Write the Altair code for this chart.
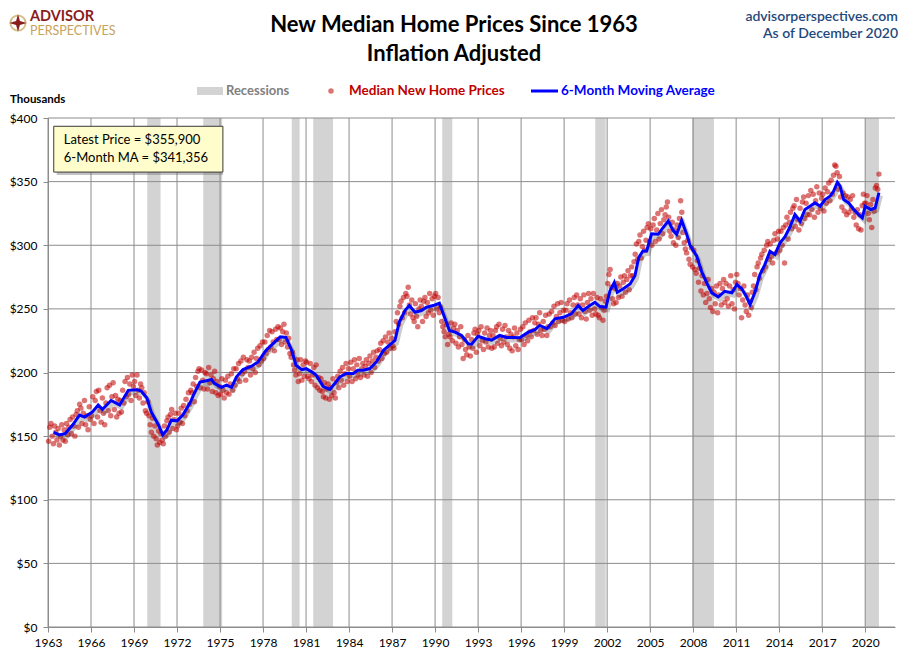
import altair as alt
import pandas as pd

# ---- monthly median new home prices (thousands, inflation adjusted) ----
prices_1960s = [
    146, 157, 160, 150, 144, 158, 153, 147, 156, 143, 150, 159,   # 1963
    147, 155, 146, 160, 151, 157, 163, 152, 165, 158, 150, 167,   # 1964
    170, 157, 175, 172, 160, 168, 178, 159, 166, 155, 173, 163,   # 1965
    166, 181, 160, 178, 185, 165, 186, 170, 161, 180, 168, 159,   # 1966
    176, 188, 170, 190, 166, 181, 192, 171, 182, 165, 179, 168,   # 1967
    178, 169, 186, 176, 193, 181, 196, 183, 191, 178, 198, 189,   # 1968
    193, 182, 198, 186, 180, 191, 188, 176, 184, 170, 168, 177,   # 1969
]
prices_1970s = [
    166, 159, 153, 164, 150, 158, 148, 143, 154, 145, 152, 147,   # 1970
    144, 158, 150, 162, 165, 153, 167, 171, 156, 163, 168, 155,   # 1971
    158, 168, 161, 172, 160, 174, 166, 179, 170, 184, 175, 186,   # 1972
    184, 191, 177, 196, 189, 201, 203, 188, 202, 194, 187, 200,   # 1973
    199, 187, 204, 192, 198, 185, 195, 201, 184, 193, 182, 189,   # 1974
    183, 195, 186, 180, 194, 184, 197, 183, 191, 199, 186, 203,   # 1975
    190, 203, 195, 207, 193, 209, 199, 212, 201, 194, 210, 204,   # 1976
    209, 198, 212, 203, 216, 200, 211, 219, 206, 221, 209, 224,   # 1977
    211, 224, 215, 229, 218, 233, 220, 232, 224, 217, 234, 226,   # 1978
    236, 226, 235, 222, 232, 238, 224, 231, 220, 227, 215, 212,   # 1979
]
prices_1980s = [
    216, 206, 202, 198, 210, 193, 199, 210, 194, 206, 197, 209,   # 1980
    208, 197, 195, 207, 193, 198, 204, 190, 206, 188, 196, 186,   # 1981
    195, 185, 181, 192, 180, 187, 191, 179, 188, 182, 195, 184,   # 1982
    180, 192, 197, 188, 201, 194, 204, 190, 199, 207, 193, 203,   # 1983
    197, 208, 193, 203, 210, 195, 206, 198, 211, 196, 203, 207,   # 1984
    198, 205, 210, 197, 207, 213, 200, 209, 216, 204, 212, 217,   # 1985
    209, 218, 223, 211, 225, 215, 228, 216, 224, 231, 219, 227,   # 1986
    221, 219, 232, 240, 247, 238, 252, 256, 243, 259, 247, 262,   # 1987
    260, 267, 253, 246, 257, 243, 240, 254, 244, 236, 250, 257,   # 1988
    252, 240, 256, 259, 244, 255, 247, 262, 249, 258, 245, 260,   # 1989
]
prices_1990s = [
    262, 250, 259, 247, 251, 240, 236, 232, 228, 238, 222, 230,   # 1990
    228, 239, 225, 235, 238, 223, 233, 220, 228, 236, 222, 211,   # 1991
    226, 218, 214, 229, 220, 213, 226, 219, 231, 234, 216, 230,   # 1992
    233, 221, 236, 225, 218, 231, 224, 235, 220, 229, 233, 219,   # 1993
    229, 220, 233, 236, 223, 238, 227, 221, 234, 224, 237, 228,   # 1994
    222, 233, 219, 230, 217, 228, 235, 221, 231, 218, 226, 234,   # 1995
    226, 236, 222, 239, 229, 225, 241, 232, 228, 243, 233, 239,   # 1996
    243, 230, 238, 247, 233, 229, 240, 234, 245, 229, 236, 246,   # 1997
    236, 248, 239, 252, 237, 244, 254, 240, 247, 255, 241, 249,   # 1998
    240, 249, 254, 242, 257, 247, 243, 253, 259, 246, 261, 253,   # 1999
]
prices_2000s = [
    246, 258, 243, 253, 261, 248, 242, 255, 262, 249, 258, 245,   # 2000
    262, 250, 246, 259, 245, 243, 258, 251, 241, 249, 256, 260,   # 2001
    270, 277, 281, 267, 258, 254, 266, 255, 270, 259, 268, 275,   # 2002
    260, 271, 276, 263, 273, 280, 265, 276, 283, 276, 287, 293,   # 2003
    301, 289, 303, 308, 290, 299, 311, 296, 304, 314, 317, 303,   # 2004
    313, 300, 316, 321, 303, 312, 325, 305, 317, 328, 309, 320,   # 2005
    324, 330, 334, 322, 311, 307, 318, 302, 312, 300, 316, 306,   # 2006
    321, 335, 326, 310, 302, 297, 294, 304, 289, 285, 298, 283,   # 2007
    296, 281, 278, 288, 271, 282, 264, 276, 261, 270, 255, 262,   # 2008
    273, 258, 251, 266, 248, 263, 254, 268, 247, 261, 270, 253,   # 2009
]
prices_2010s = [
    266, 273, 255, 270, 258, 252, 268, 276, 254, 265, 250, 271,   # 2010
    277, 270, 261, 266, 243, 257, 268, 253, 248, 261, 245, 256,   # 2011
    251, 263, 268, 277, 265, 283, 286, 274, 290, 293, 280, 296,   # 2012
    283, 300, 303, 289, 301, 291, 286, 304, 309, 294, 305, 311,   # 2013
    296, 311, 300, 314, 286, 316, 322, 305, 318, 326, 313, 329,   # 2014
    331, 315, 336, 320, 312, 329, 317, 334, 338, 321, 333, 324,   # 2015
    339, 324, 343, 328, 340, 322, 335, 346, 326, 341, 329, 337,   # 2016
    340, 327, 345, 333, 342, 349, 335, 351, 340, 355, 363, 362,   # 2017
    357, 344, 354, 338, 330, 341, 327, 339, 324, 338, 326, 336,   # 2018
    329, 339, 322, 326, 316, 328, 313, 324, 312, 331, 340, 333,   # 2019
]
prices_2020 = [333, 339, 325, 320, 332, 314, 336, 327, 345, 347, 344, 355.9]

# ---- 6-month moving average (decimal year, thousands) ----
ma_year = [
    1963.4, 1963.8, 1964.2, 1964.7, 1965.2, 1965.55, 1966.1, 1966.5, 1966.8, 1967.4,
    1968.0, 1968.6, 1969.2, 1969.5, 1969.9, 1970.2, 1970.7, 1971.0, 1971.3, 1971.6,
    1972.0, 1972.4, 1972.9, 1973.2, 1973.6, 1974.05, 1974.4, 1974.6, 1975.1, 1975.45,
    1975.8, 1976.15, 1976.6, 1977.2, 1977.65, 1978.2, 1978.7, 1979.2, 1979.6, 1980.0,
    1980.3, 1980.7, 1981.0, 1981.4, 1981.7, 1982.2, 1982.66, 1983.0, 1983.36, 1983.8,
    1984.3, 1984.6, 1985.0, 1985.45, 1985.9, 1986.4, 1986.8, 1987.2, 1987.5, 1987.9,
    1988.2, 1988.6, 1989.05, 1989.4, 1989.87, 1990.3, 1990.7, 1991.0, 1991.4, 1991.85,
    1992.3, 1992.55, 1993.0, 1993.5, 1993.95, 1994.5, 1995.0, 1995.5, 1995.9, 1996.5,
    1996.96, 1997.3, 1997.8, 1998.36, 1998.94, 1999.5, 1999.98, 2000.3, 2000.8, 2001.15,
    2001.5, 2001.92, 2002.2, 2002.5, 2002.7, 2003.1, 2003.6, 2003.94, 2004.2, 2004.5,
    2004.76, 2005.1, 2005.57, 2005.9, 2006.27, 2006.6, 2006.85, 2007.2, 2007.55, 2007.78,
    2008.25, 2008.6, 2008.95, 2009.3, 2009.75, 2010.2, 2010.7, 2011.05, 2011.4, 2011.7,
    2011.97, 2012.3, 2012.66, 2013.0, 2013.36, 2013.7, 2014.06, 2014.4, 2014.76, 2015.1,
    2015.46, 2015.8, 2016.15, 2016.5, 2016.86, 2017.2, 2017.55, 2017.8, 2018.06, 2018.25,
    2018.5, 2018.85, 2019.2, 2019.55, 2019.8, 2020.0, 2020.4, 2020.7, 2020.96,
]
ma_value = [
    153, 151, 152, 158.5, 166.5, 165, 169, 174.5, 171, 178,
    174.5, 186, 186.5, 185.5, 180, 169, 159, 151, 155, 162.5,
    162, 166.5, 176, 183.5, 192.5, 193.5, 194.5, 191.5, 188.3, 190,
    188.3, 196.6, 202.3, 205, 208.3, 217.4, 222.7, 228, 227.5, 217.4,
    205.7, 202.3, 203, 200.5, 198, 189, 186.7, 191.4, 196.6, 199.2,
    199.2, 201.8, 201.8, 203.1, 208.3, 217.4, 221.3, 225.2, 239.5, 248.7,
    252.6, 247.3, 248.7, 251.3, 252.6, 254.4, 242.2, 233, 231.7, 229.1,
    222.7, 222.3, 228.4, 226.5, 225.5, 229.1, 227.5, 227.5, 227.3, 231.7,
    233.6, 237, 234.4, 242.2, 243.4, 246.1, 252.6, 248.7, 252.6, 255.2,
    251.8, 251.3, 264.3, 270.8, 263, 265.6, 269.5, 276, 290.3, 295.5,
    295.5, 309, 308.6, 313.8, 319, 311.7, 308.6, 319.5, 308.6, 300,
    291.5, 279, 270.4, 262.6, 259.4, 263.8, 262.6, 269.1, 265.7, 259.9,
    253.4, 262.6, 277, 284.8, 295.3, 292.7, 301.9, 306.6, 314.5, 324.1,
    318.9, 328.1, 330.7, 333.3, 330.7, 335.9, 338.5, 342.5, 349.5, 346.4,
    335.9, 333.3, 328.1, 324.1, 321.5, 330.7, 328.1, 329.4, 341.356,
]

# ---- recessions (decimal years) ----
rec_start = [1969.92, 1973.83, 1980.0, 1981.5, 1990.5, 2001.17, 2007.92, 2020.0]
rec_end = [1970.85, 1975.15, 1980.55, 1982.88, 1991.2, 2001.9, 2009.45, 2020.96]

x_ticks = list(range(1963, 2021, 3))
y_ticks = list(range(0, 401, 50))

# ---- tables ----
all_prices = prices_1960s + prices_1970s + prices_1980s + prices_1990s + prices_2000s + prices_2010s + prices_2020
months = [(1963 + i // 12) + ((i % 12) + 0.5) / 12 for i in range(len(all_prices))]
pts = pd.DataFrame({"t": months, "v": all_prices})
ma = pd.DataFrame({"t": ma_year, "v": ma_value})
rec = pd.DataFrame({"s": rec_start, "e": rec_end, "lo": [0] * len(rec_start), "hi": [400] * len(rec_start)})
xg = pd.DataFrame({"g": x_ticks})
yg = pd.DataFrame({"g": y_ticks})

FONT = "Lato"
GRID = "#8c8c8c"
xs = alt.Scale(domain=[1963, 2022.08], nice=False, zero=False)
ys = alt.Scale(domain=[0, 400], nice=False, zero=True)

x_axis = alt.Axis(values=x_ticks, format="d", grid=False, tickSize=5, tickColor=GRID,
                  domainColor=GRID, labelFont=FONT, labelFontSize=12, labelColor="black",
                  labelPadding=5, title=None, labelFlush=False)
y_axis = alt.Axis(values=y_ticks, labelExpr="'$' + datum.value", grid=False, tickSize=5,
                  tickColor=GRID, domainColor=GRID, labelFont=FONT, labelFontSize=12,
                  labelColor="black", labelPadding=6, title=None)


def X(f):
    return alt.X(f, scale=xs, axis=x_axis)


def Y(f):
    return alt.Y(f, scale=ys, axis=y_axis)


bands = alt.Chart(rec).mark_rect(color="#d3d3d3").encode(
    x=X("s:Q"), x2="e:Q", y=Y("lo:Q"), y2="hi:Q")

vgrid = alt.Chart(xg).mark_rule(color=GRID, strokeWidth=1).encode(x=X("g:Q"))
hgrid = alt.Chart(yg).mark_rule(color=GRID, strokeWidth=1).encode(y=Y("g:Q"))

dots = alt.Chart(pts).mark_circle(size=30, color="#c00000", opacity=0.55).encode(
    x=X("t:Q"), y=Y("v:Q"))

shadow = alt.Chart(ma).mark_line(color="#333333", opacity=0.25, strokeWidth=4,
                                 xOffset=2, yOffset=3).encode(x=X("t:Q"), y=Y("v:Q"))
line = alt.Chart(ma).mark_line(color="#0000ff", strokeWidth=3).encode(x=X("t:Q"), y=Y("v:Q"))

# annotation box (data coordinates)
box_df = pd.DataFrame({"x1": [1963.4], "x2": [1975.2], "y1": [357.5], "y2": [393.5]})
box_shadow = alt.Chart(box_df).mark_rect(fill="#777777", opacity=0.45, xOffset=3, yOffset=3).encode(
    x=X("x1:Q"), x2="x2:Q", y=Y("y1:Q"), y2="y2:Q")
box = alt.Chart(box_df).mark_rect(fill="#fefdcb", stroke="#3a3a3a", strokeWidth=1).encode(
    x=X("x1:Q"), x2="x2:Q", y=Y("y1:Q"), y2="y2:Q")
box_txt = pd.DataFrame({"x": [1964.1, 1964.1], "y": [382.5, 368.7],
                        "s": ["Latest Price = $355,900", "6-Month MA = $341,356"]})
box_text = alt.Chart(box_txt).mark_text(align="left", baseline="middle", font=FONT,
                                        fontSize=13, color="black").encode(
    x=X("x:Q"), y=Y("y:Q"), text="s:N")


def label(s, x, y, **kw):
    return alt.Chart(pd.DataFrame({"s": [s]})).mark_text(**kw).encode(
        x=alt.value(x), y=alt.value(y), text="s:N")


one = pd.DataFrame({"a": [0]})
titles = [
    label("New Median Home Prices Since 1963", 406, -93, align="center", baseline="middle",
          font=FONT, fontSize=22, fontWeight="bold", color="black"),
    label("Inflation Adjusted", 406, -64, align="center", baseline="middle",
          font=FONT, fontSize=22, fontWeight="bold", color="black"),
    label("advisorperspectives.com", 850, -101, align="right", baseline="middle",
          font=FONT, fontSize=14, fontWeight=600, color="#1f497d"),
    label("As of December 2020", 850, -84, align="right", baseline="middle",
          font=FONT, fontSize=14, fontWeight=600, color="#1f497d"),
    label("ADVISOR", -18, -101, align="left", baseline="middle",
          font=FONT, fontSize=14.5, fontWeight="bold", color="#8b1c1c"),
    label("PERSPECTIVES", -18, -87, align="left", baseline="middle",
          font=FONT, fontSize=12.5, color="#c8a25a"),
    label("Thousands", -38, -18, align="left", baseline="middle",
          font=FONT, fontSize=11.5, fontWeight="bold", color="black"),
    label("Recessions", 178, -27, align="left", baseline="middle",
          font=FONT, fontSize=13, fontWeight="bold", color="#808080"),
    label("Median New Home Prices", 301, -27, align="left", baseline="middle",
          font=FONT, fontSize=13.5, fontWeight="bold", color="#c00000"),
    label("6-Month Moving Average", 513, -27, align="left", baseline="middle",
          font=FONT, fontSize=13.5, fontWeight="bold", color="#0000ff"),
]

logo_ring = alt.Chart(one).mark_point(shape="circle", size=230, filled=False,
                                      stroke="#c8a25a", strokeWidth=2).encode(
    x=alt.value(-30), y=alt.value(-95))
logo_star = alt.Chart(one).mark_point(
    shape="M0,-1 L0.22,-0.22 L1,0 L0.22,0.22 L0,1 L-0.22,0.22 L-1,0 L-0.22,-0.22 Z",
    size=300, filled=True, color="#8b1c1c", opacity=1).encode(
    x=alt.value(-30), y=alt.value(-95))

leg_rect = alt.Chart(one).mark_rect(color="#d3d3d3").encode(
    x=alt.value(149), x2=alt.value(175), y=alt.value(-31), y2=alt.value(-23))
leg_dot = alt.Chart(one).mark_circle(size=30, color="#c00000", opacity=0.55).encode(
    x=alt.value(283), y=alt.value(-27))
leg_line = alt.Chart(one).mark_rule(color="#0000ff", strokeWidth=3).encode(
    x=alt.value(483), x2=alt.value(510), y=alt.value(-27))

chart = alt.layer(
    bands, vgrid, hgrid, dots, shadow, line, box_shadow, box, box_text,
    logo_ring, logo_star, leg_rect, leg_dot, leg_line, *titles
).properties(
    width=847, height=509,
    autosize=alt.AutoSizeParams(type="none"),
    padding={"left": 40, "top": 110, "right": 5, "bottom": 23},
    background="white",
).configure_view(stroke=None)

chart.save("out.html", embed_options={"renderer": "svg", "actions": False})
